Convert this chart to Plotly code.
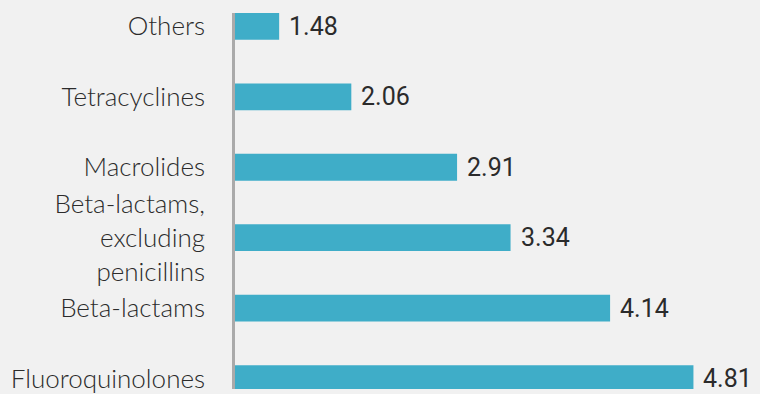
import plotly.graph_objects as go

categories = ["Fluoroquinolones", "Beta-lactams", "Beta-lactams,<br>excluding<br>penicillins",
              "Macrolides", "Tetracyclines", "Others"]
values = [4.81, 4.14, 3.34, 2.91, 2.06, 1.48]
value_labels = ["4.81", "4.14", "3.34", "2.91", "2.06", "1.48"]

BAR = "#3fadc8"
BG = "#f1f1f1"
TXT = "#2b2b2b"

fig = go.Figure()
fig.add_trace(go.Bar(
    x=values, y=categories, orientation="h",
    marker=dict(color=BAR, line=dict(width=0)),
    hoverinfo="skip",
))

for v, c, t in zip(values, categories, value_labels):
    fig.add_annotation(x=v, y=c, text=t, showarrow=False, xanchor="left",
                       yanchor="middle", xshift=8,
                       font=dict(family="Roboto", size=25, color=TXT))

fig.update_layout(
    width=760, height=394,
    margin=dict(l=235, r=0, t=13, b=0),
    paper_bgcolor=BG, plot_bgcolor=BG,
    bargap=0.62,
    showlegend=False,
    xaxis=dict(range=[1.125, 5.345], visible=False, showgrid=False, zeroline=False),
    yaxis=dict(type="category", categoryorder="array", categoryarray=categories,
               range=[-0.147, 5.189], showgrid=False, zeroline=False,
               showline=True, linecolor="#aaaaaa", linewidth=2.5,
               ticks="", ticklabelstandoff=22,
               tickfont=dict(family="Lato", size=26, color=TXT, weight=300)),
)

fig.write_html("out.html")
